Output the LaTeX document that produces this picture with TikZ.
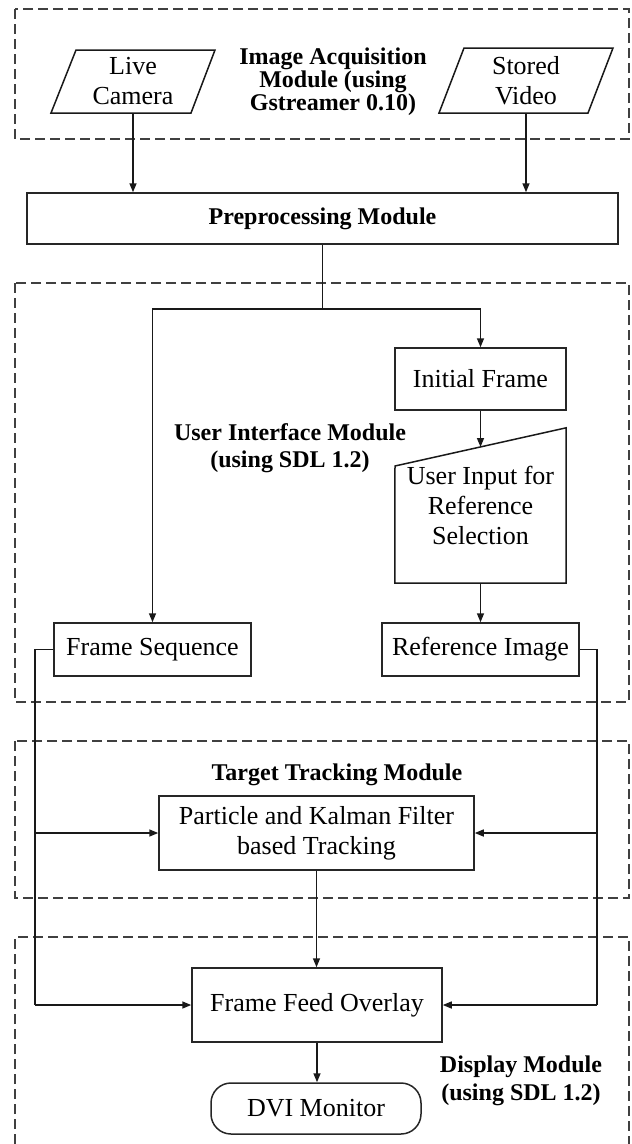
\documentclass[tikz,border=0pt]{standalone}
\usepackage{fontspec}
\setmainfont{Liberation Serif}
\usetikzlibrary{arrows.meta,calc}
\begin{document}
\begin{tikzpicture}[x=1pt,y=-1pt,
  line/.style={draw=black!90, line width=1.5pt},
  arr/.style={line, -{Triangle[length=9pt,width=7pt]}},
  module/.style={draw=black!75, line width=1.3pt, dash pattern=on 10pt off 5pt},
  box/.style={draw=black!85, line width=1.5pt, rectangle, inner sep=0pt,
              font=\fontsize{26}{30}\selectfont, align=center},
  ghost/.style={rectangle, inner sep=0pt, font=\fontsize{26}{30}\selectfont, align=center},
  title/.style={font=\fontsize{24}{27}\selectfont\bfseries, align=center, inner sep=0pt},
]
\useasboundingbox (0,0) rectangle (632,1144);

% module frames
\draw[module] (15,9) rectangle (629,139);
\draw[module] (15,283) rectangle (629,702);
\draw[module] (15,741) rectangle (629,898);
\draw[module] (15,1144) -- (15,937) -- (629,937) -- (629,1144);

% image acquisition
\node[ghost, minimum width=140pt, minimum height=63pt] (lc) at (133,81.5) {Live\\Camera};
\draw[line] (76,50) -- (215,50) -- (191,113) -- (51,113) -- cycle;
\node[ghost, minimum width=150pt, minimum height=65pt] (sv) at (526,80.5) {Stored\\Video};
\draw[line] (464,48) -- (613,48) -- (588,113) -- (439,113) -- cycle;
\node[title, font=\fontsize{24}{20}\selectfont\bfseries] (acqlabel) at (333,82)
  {Image Acquisition\\Module (using\\Gstreamer 0.10)};

% preprocessing
\node[box, font=\fontsize{24}{27}\selectfont\bfseries, minimum width=591pt, minimum height=51pt]
  (pre) at (322.5,218.5) {Preprocessing Module};
\draw[arr] (lc.south) -- (lc.south |- pre.north);
\draw[arr] (sv.south) -- (sv.south |- pre.north);

% user interface
\node[box, minimum width=171pt, minimum height=62pt] (init) at (480.5,379) {Initial Frame};
\node[ghost, minimum width=171pt, minimum height=155pt] (uin) at (480.5,505.5)
  {User Input for\\Reference\\Selection};
\draw[line] (uin.south west) -- (395,466) -- (uin.north east) -- (uin.south east) -- cycle;
\coordinate (uintop) at (480.5,447);
\node[box, minimum width=197pt, minimum height=53pt] (ref) at (480.5,649.5) {Reference Image};
\node[box, minimum width=197pt, minimum height=53pt] (fs) at (152.5,649.5) {Frame Sequence};
\node[title] (uilabel) at (290,448) {User Interface Module\\(using SDL 1.2)};

\coordinate (split) at (322.5,309);
\draw[line] (pre.south) -- (split);
\draw[arr] (split) -| (init.north);
\draw[arr] (split) -| (fs.north);
\draw[arr] (init.south) -- (uintop);
\draw[arr] (uin.south) -- (ref.north);

% target tracking
\node[title] (ttlabel) at (337,775) {Target Tracking Module};
\node[box, minimum width=315pt, minimum height=74pt] (track) at (316.5,833)
  {Particle and Kalman Filter\\based Tracking};

% display
\node[box, minimum width=250pt, minimum height=74pt] (ovl) at (317,1005) {Frame Feed Overlay};
\node[box, rounded corners=20pt, minimum width=210pt, minimum height=51pt] (dvi) at (316,1108.5) {DVI Monitor};
\node[title, font=\fontsize{24}{28}\selectfont\bfseries] (dlabel) at (521,1081)
  {Display Module\\(using SDL 1.2)};

% feeds into tracking and overlay
\coordinate (lbus) at (35,649.5);
\coordinate (rbus) at (597,649.5);
\draw[line] (fs.west) -- (lbus) -- (lbus |- ovl.west);
\draw[arr] (lbus |- ovl.west) -- (ovl.west);
\draw[arr] (lbus |- track.west) -- (track.west);
\draw[line] (ref.east) -- (rbus) -- (rbus |- ovl.east);
\draw[arr] (rbus |- ovl.east) -- (ovl.east);
\draw[arr] (rbus |- track.east) -- (track.east);
\draw[arr] (track.south) -- (track.south |- ovl.north);
\draw[arr] (ovl.south) -- (ovl.south |- dvi.north);
\end{tikzpicture}
\end{document}
